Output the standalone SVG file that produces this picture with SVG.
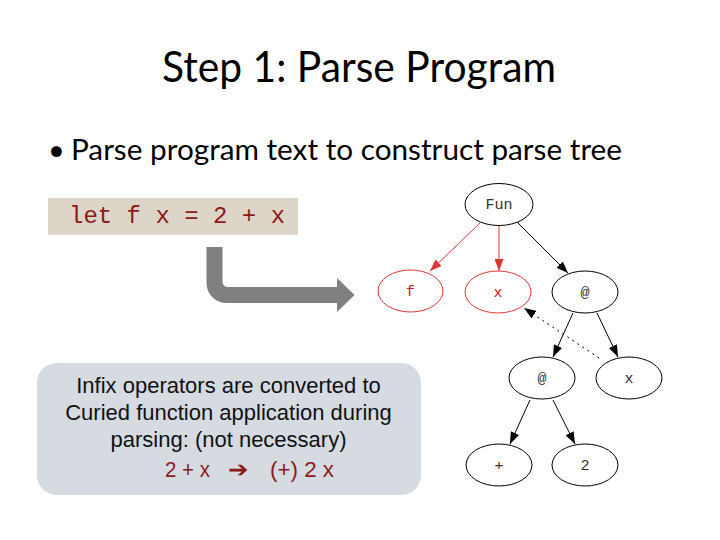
<svg xmlns="http://www.w3.org/2000/svg" width="720" height="540" viewBox="0 0 720 540">
<style>
.title{font-family:Lato,"Open Sans",sans-serif;font-size:42px;fill:#000}
.bul{font-family:Lato,"Open Sans",sans-serif;font-size:29px;fill:#000}
.code{font-family:"Liberation Mono",monospace;font-size:24px;fill:#8b1a1a}
.note{font-family:"Liberation Sans",Arial,sans-serif;font-size:22px;fill:#111;text-anchor:middle}
.red{font-family:"Liberation Sans",Arial,sans-serif;font-size:22px;fill:#8b1a1a}
.node ellipse{fill:#fff;stroke:#000;stroke-width:1}
.node.r ellipse{stroke:#e03535}
.node text{font-family:"Liberation Mono","DejaVu Sans Mono",monospace;font-size:15px;text-anchor:middle;fill:#333}
.node.r text{fill:#d02020}
.e{stroke:#000;stroke-width:1;fill:none;marker-end:url(#ab)}
.e.r{stroke:#e03535;marker-end:url(#ar)}
.e.d{stroke-dasharray:2 4}
</style>
<defs>
<marker id="ab" markerUnits="userSpaceOnUse" markerWidth="12" markerHeight="9" refX="12" refY="4.5" orient="auto"><path d="M0,0 L12,4.5 L0,9 z" fill="#000"/></marker>
<marker id="ar" markerUnits="userSpaceOnUse" markerWidth="12" markerHeight="9" refX="12" refY="4.5" orient="auto"><path d="M0,0 L12,4.5 L0,9 z" fill="#e03535"/></marker>
</defs>
<rect width="720" height="540" fill="#fff"/>
<text class="title" x="162" y="82" textLength="394" lengthAdjust="spacingAndGlyphs">Step 1: Parse Program</text>
<text class="bul" x="48" y="160">•</text>
<text class="bul" x="71" y="160" textLength="551" lengthAdjust="spacingAndGlyphs">Parse program text to construct parse tree</text>
<g id="code">
<rect x="48" y="198" width="250" height="37" fill="#ddd6c8"/>
<text class="code" x="69" y="223">let f x = 2 + x</text>
</g>
<g id="bigarrow">
<path d="M206.5,247 L222.5,247 L222.5,281 Q222.5,287 228.5,287 L337,287 L337,278 L354.5,295 L337,312 L337,303 L226.5,303 A20,20 0 0 1 206.5,283 Z" fill="#808080"/>
</g>
<g id="callout">
<rect x="37" y="363" width="384" height="132" rx="20" ry="20" fill="#d6dbe1"/>
<text class="note" x="228.5" y="393">Infix operators are converted to</text>
<text class="note" x="228.5" y="420">Curied function application during</text>
<text class="note" x="228.5" y="447">parsing: (not necessary)</text>
<text class="red" x="165" y="477" textLength="45" lengthAdjust="spacingAndGlyphs">2 + x</text>
<text class="red" x="228" y="477" font-family="DejaVu Sans" textLength="20" lengthAdjust="spacingAndGlyphs">➔</text>
<text class="red" x="270" y="477" textLength="64" lengthAdjust="spacingAndGlyphs">(+) 2 x</text>
</g>
<g id="connectors">
<line class="e r" x1="480" y1="223" x2="430" y2="271"/>
<line class="e r" x1="499" y1="226" x2="499" y2="271"/>
<line class="e" x1="517" y1="222" x2="568" y2="273"/>
<line class="e" x1="573" y1="313" x2="553" y2="357"/>
<line class="e" x1="597" y1="313" x2="618" y2="357"/>
<line class="e d" x1="599" y1="358" x2="524" y2="308"/>
<line class="e" x1="530" y1="400" x2="510" y2="444"/>
<line class="e" x1="553" y1="400" x2="575" y2="444"/>
</g>
<g id="n-fun" class="node"><ellipse cx="499" cy="204.5" rx="34" ry="21"/><text x="499" y="209">Fun</text></g>
<g id="n-f" class="node r"><ellipse cx="410.5" cy="291" rx="32.5" ry="21"/><text x="410.5" y="296">f</text></g>
<g id="n-x1" class="node r"><ellipse cx="498" cy="292" rx="33" ry="21"/><text x="498" y="297">x</text></g>
<g id="n-app1" class="node"><ellipse cx="585" cy="292" rx="33" ry="21"/><text x="585" y="297">@</text></g>
<g id="n-app2" class="node"><ellipse cx="542" cy="378" rx="33" ry="21"/><text x="542" y="383">@</text></g>
<g id="n-x2" class="node"><ellipse cx="629" cy="378" rx="33" ry="21"/><text x="629" y="383">x</text></g>
<g id="n-plus" class="node"><ellipse cx="499" cy="465" rx="33" ry="21"/><text x="499" y="470">+</text></g>
<g id="n-two" class="node"><ellipse cx="585" cy="465" rx="33" ry="21"/><text x="585" y="470">2</text></g>
</svg>
